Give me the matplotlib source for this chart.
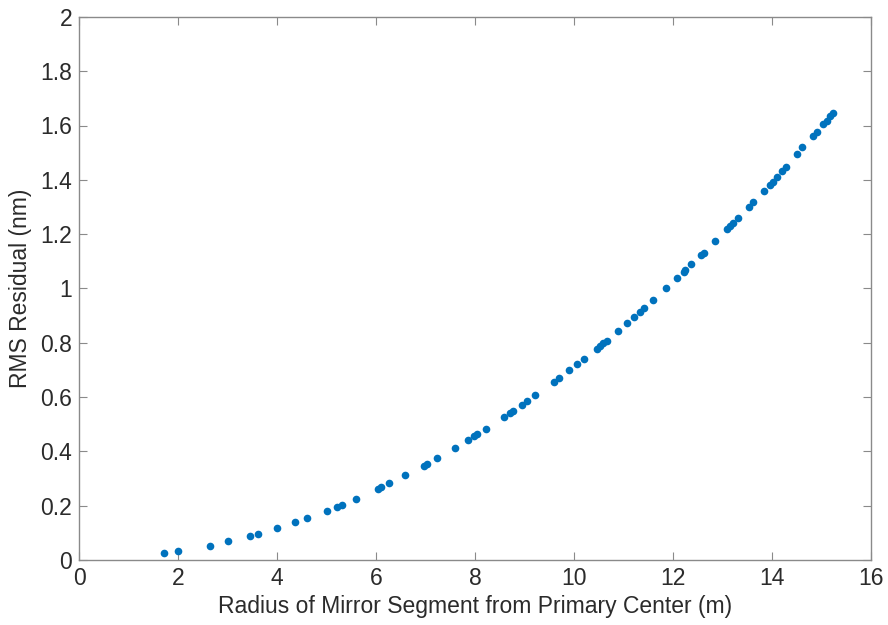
import matplotlib.pyplot as plt

# Segment radius (m) and RMS residual (nm)
radius = [1.72, 1.99, 2.64, 3.00, 3.46, 3.61, 4.00, 4.37, 4.60, 5.01,
          5.22, 5.31, 5.59, 6.03, 6.10, 6.27, 6.59, 6.96, 7.02, 7.24,
          7.59, 7.85, 7.98, 8.04, 8.23, 8.59, 8.70, 8.77, 8.94, 9.04,
          9.21, 9.59, 9.70, 9.90, 10.06, 10.21, 10.46, 10.53, 10.59, 10.66,
          10.88, 11.07, 11.21, 11.33, 11.42, 11.60, 11.86, 12.07, 12.21, 12.25,
          12.36, 12.57, 12.62, 12.85, 13.08, 13.14, 13.20, 13.31, 13.53, 13.61,
          13.83, 13.95, 14.01, 14.09, 14.20, 14.28, 14.51, 14.61, 14.83, 14.90,
          15.02, 15.10, 15.17, 15.23]
rms = [0.025, 0.033, 0.053, 0.069, 0.089, 0.097, 0.118, 0.139, 0.154, 0.182,
       0.197, 0.204, 0.226, 0.262, 0.269, 0.284, 0.313, 0.347, 0.354, 0.376,
       0.412, 0.442, 0.456, 0.464, 0.483, 0.527, 0.541, 0.549, 0.571, 0.584,
       0.606, 0.656, 0.672, 0.700, 0.721, 0.742, 0.777, 0.787, 0.800, 0.808,
       0.842, 0.872, 0.894, 0.914, 0.929, 0.958, 1.003, 1.037, 1.060, 1.068,
       1.089, 1.124, 1.132, 1.173, 1.219, 1.230, 1.240, 1.258, 1.301, 1.317,
       1.360, 1.382, 1.392, 1.410, 1.432, 1.446, 1.496, 1.519, 1.562, 1.576,
       1.605, 1.616, 1.634, 1.646]

x_ticks = [0, 2, 4, 6, 8, 10, 12, 14, 16]
y_ticks = [0, 0.2, 0.4, 0.6, 0.8, 1, 1.2, 1.4, 1.6, 1.8, 2]
y_labels = ["0", "0.2", "0.4", "0.6", "0.8", "1", "1.2", "1.4", "1.6", "1.8", "2"]

plt.rcParams["font.family"] = ["Liberation Sans", "DejaVu Sans"]

fig = plt.figure(figsize=(8.88, 6.25), dpi=100)
ax = fig.add_axes([0.089, 0.104, 0.892, 0.869])

ax.plot(radius, rms, "o", color="#0072BD", markersize=5.5,
        markeredgewidth=0)

ax.set_xlim(0, 16)
ax.set_ylim(0, 2)
ax.set_xticks(x_ticks)
ax.set_yticks(y_ticks)
ax.set_yticklabels(y_labels)

for side in ax.spines.values():
    side.set_color("#8a8a8a")
    side.set_linewidth(1.0)
ax.tick_params(direction="in", length=6, width=0.8, color="#8a8a8a",
               labelcolor="#2b2b2b", labelsize=16.5, top=True, right=True)
ax.tick_params(axis="x", pad=5)
ax.tick_params(axis="y", pad=5)

ax.set_xlabel("Radius of Mirror Segment from Primary Center (m)",
              fontsize=16.5, color="#2b2b2b", labelpad=4)
ax.set_ylabel("RMS Residual (nm)", fontsize=16.5, color="#2b2b2b",
              labelpad=6)

fig.savefig("out.png", dpi=100)
